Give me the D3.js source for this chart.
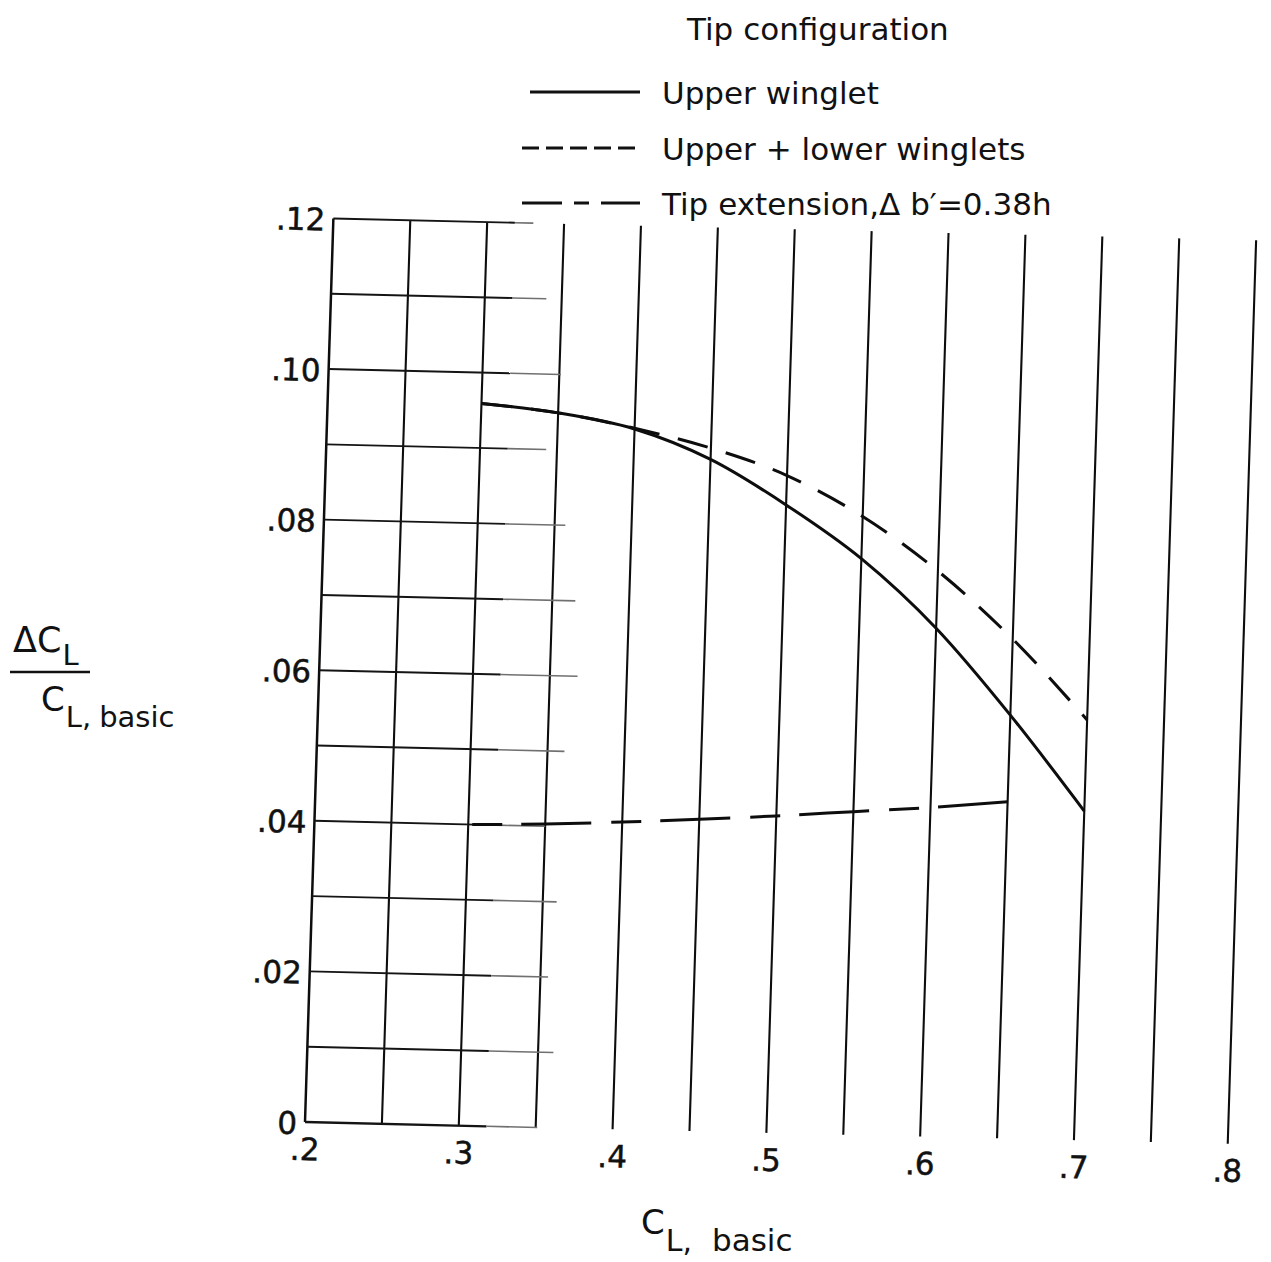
<!DOCTYPE html>
<html>
<head>
<meta charset="utf-8">
<script src="https://cdn.jsdelivr.net/npm/d3@7"></script>
<style>
  body { margin: 0; background: #fff; }
  svg { display: block; }
  text { font-family: "DejaVu Sans", sans-serif; fill: #111; }
</style>
</head>
<body>
<svg id="chart" width="1271" height="1262"></svg>
<script>
// Lift increment ratio, ΔC_L / C_L,basic, against C_L,basic for three tip configurations
const clBasic = [0.30, 0.35, 0.40, 0.45, 0.50, 0.55, 0.60, 0.65, 0.70];
const upperWinglet = [0.0959, 0.0949, 0.0930, 0.0892, 0.0834, 0.0765, 0.0675, 0.0562, 0.0437];
const upperLowerWinglets = [0.0959, 0.0949, 0.0931, 0.0907, 0.0873, 0.0821, 0.0751, 0.0663, 0.0558];
const clBasicTip = [0.30, 0.35, 0.40, 0.45, 0.50, 0.55, 0.60, 0.65];
const tipExtension = [0.0400, 0.0403, 0.0408, 0.0414, 0.0421, 0.0429, 0.0437, 0.0447];

const xTicks = [0.2, 0.3, 0.4, 0.5, 0.6, 0.7, 0.8];
const xTickLabels = [".2", ".3", ".4", ".5", ".6", ".7", ".8"];
const yTicks = [0, 0.02, 0.04, 0.06, 0.08, 0.10, 0.12];
const yTickLabels = ["0", ".02", ".04", ".06", ".08", ".10", ".12"];

// grid: vertical rules every 0.05, horizontal rules every 0.01 (only over the left part)
const xGrid = [0.2, 0.25, 0.3, 0.35, 0.4, 0.45, 0.5, 0.55, 0.6, 0.65, 0.7, 0.75, 0.8];
const yGrid = [0, 0.01, 0.02, 0.03, 0.04, 0.05, 0.06, 0.07, 0.08, 0.09, 0.10, 0.11, 0.12];
const yGridEnds = [0.351, 0.360, 0.355, 0.359, 0.350, 0.361, 0.368, 0.365, 0.357, 0.343, 0.351, 0.340, 0.330];

const legendLabels = ["Upper winglet", "Upper + lower winglets", "Tip extension,\u0394 b\u2032=0.38h"];

const svg = d3.select("#chart");

// plot frame (the sheet sits slightly turned on the page)
const W = 923, H = 904;
const x = d3.scaleLinear().domain([0.2, 0.8]).range([0, W]);
const y = d3.scaleLinear().domain([0, 0.12]).range([0, -H]);

const plot = svg.append("g")
  .attr("transform", "matrix(0.9997,0.02356,-0.0314,0.9995,305,1122)");

// vertical rules
plot.append("g").selectAll("line").data(xGrid).join("line")
  .attr("x1", d => x(d)).attr("x2", d => x(d))
  .attr("y1", y(0)).attr("y2", y(0.12))
  .attr("stroke", "#0d0d0d")
  .attr("stroke-width", (d, i) => i === 0 ? 2.5 : 2.1);

// horizontal rules: dark part then faded tail
const hg = plot.append("g");
hg.selectAll("line.dark").data(yGrid).join("line")
  .attr("class", "dark")
  .attr("x1", x(0.2)).attr("x2", (d, i) => x(Math.min(0.318, yGridEnds[i])))
  .attr("y1", d => y(d)).attr("y2", d => y(d))
  .attr("stroke", "#141414")
  .attr("stroke-width", (d, i) => i === 0 ? 2.3 : 1.9);
hg.selectAll("line.fade").data(yGrid).join("line")
  .attr("class", "fade")
  .attr("x1", x(0.318)).attr("x2", (d, i) => x(yGridEnds[i]))
  .attr("y1", d => y(d)).attr("y2", d => y(d))
  .attr("stroke", "#707070")
  .attr("stroke-width", 1.6);

// curves
const line = d3.line().x(d => x(d[0])).y(d => y(d[1])).curve(d3.curveMonotoneX);

plot.append("path")
  .datum(d3.zip(clBasicTip, tipExtension))
  .attr("d", line)
  .attr("fill", "none").attr("stroke", "#0d0d0d").attr("stroke-width", 3)
  .attr("stroke-dasharray", "70,20,30,19")
  .attr("stroke-dashoffset", 86);

plot.append("path")
  .datum(d3.zip(clBasic, upperLowerWinglets))
  .attr("d", line)
  .attr("fill", "none").attr("stroke", "#0d0d0d").attr("stroke-width", 3)
  .attr("stroke-dasharray", "31,19");

plot.append("path")
  .datum(d3.zip(clBasic, upperWinglet))
  .attr("d", line)
  .attr("fill", "none").attr("stroke", "#0d0d0d").attr("stroke-width", 3);

// axes (labels only; the rules above form the frame)
const yAxis = plot.append("g")
  .call(d3.axisLeft(y).tickValues(yTicks).tickFormat((d, i) => yTickLabels[i]).tickSize(0).tickPadding(8));
const xAxis = plot.append("g")
  .call(d3.axisBottom(x).tickValues(xTicks).tickFormat((d, i) => xTickLabels[i]).tickSize(0).tickPadding(16));
[yAxis, xAxis].forEach(a => {
  a.select(".domain").remove();
  a.attr("font-family", null).attr("font-size", null);
  a.selectAll("text")
    .attr("fill", "#111")
    .attr("stroke", "#111").attr("stroke-width", 0.5)
    .style("font-family", "'DejaVu Sans', sans-serif")
    .style("font-size", "31px");
});
yAxis.selectAll("text").attr("dy", "0.38em");

// x-axis title
const xt = svg.append("text").attr("x", 641).attr("y", 1234);
xt.append("tspan").style("font-size", "34px").text("C");
xt.append("tspan").attr("dy", 17).attr("dx", 1).style("font-size", "30px").text("L,");
xt.append("tspan").attr("dx", 20).style("font-size", "31px").text("basic");

// y-axis title (fraction)
const yn = svg.append("text").attr("x", 13).attr("y", 652);
yn.append("tspan").style("font-size", "35px").text("\u0394C");
yn.append("tspan").attr("dy", 13).attr("dx", 1).style("font-size", "29px").text("L");
svg.append("line")
  .attr("x1", 10).attr("x2", 90).attr("y1", 672).attr("y2", 672)
  .attr("stroke", "#111").attr("stroke-width", 2.5);
const yd = svg.append("text").attr("x", 41).attr("y", 711);
yd.append("tspan").style("font-size", "34px").text("C");
yd.append("tspan").attr("dy", 16).attr("dx", 1).style("font-size", "29px").text("L,");
yd.append("tspan").attr("dx", 8).style("font-size", "29px").text("basic");

// legend
svg.append("text").attr("x", 687).attr("y", 40).style("font-size", "31px").text("Tip configuration");
const legendRows = [
  { y: 92, x1: 530, dash: null },
  { y: 148, x1: 522, dash: "17,7" },
  { y: 203, x1: 522, dash: "40,12,15,12,40" }
];
legendRows.forEach((r, i) => {
  svg.append("line")
    .attr("x1", r.x1).attr("x2", 640).attr("y1", r.y).attr("y2", r.y)
    .attr("stroke", "#111").attr("stroke-width", 3)
    .attr("stroke-dasharray", r.dash);
  svg.append("text").attr("x", 662).attr("y", r.y + 12)
    .style("font-size", "31px").text(legendLabels[i]);
});
</script>
</body>
</html>
